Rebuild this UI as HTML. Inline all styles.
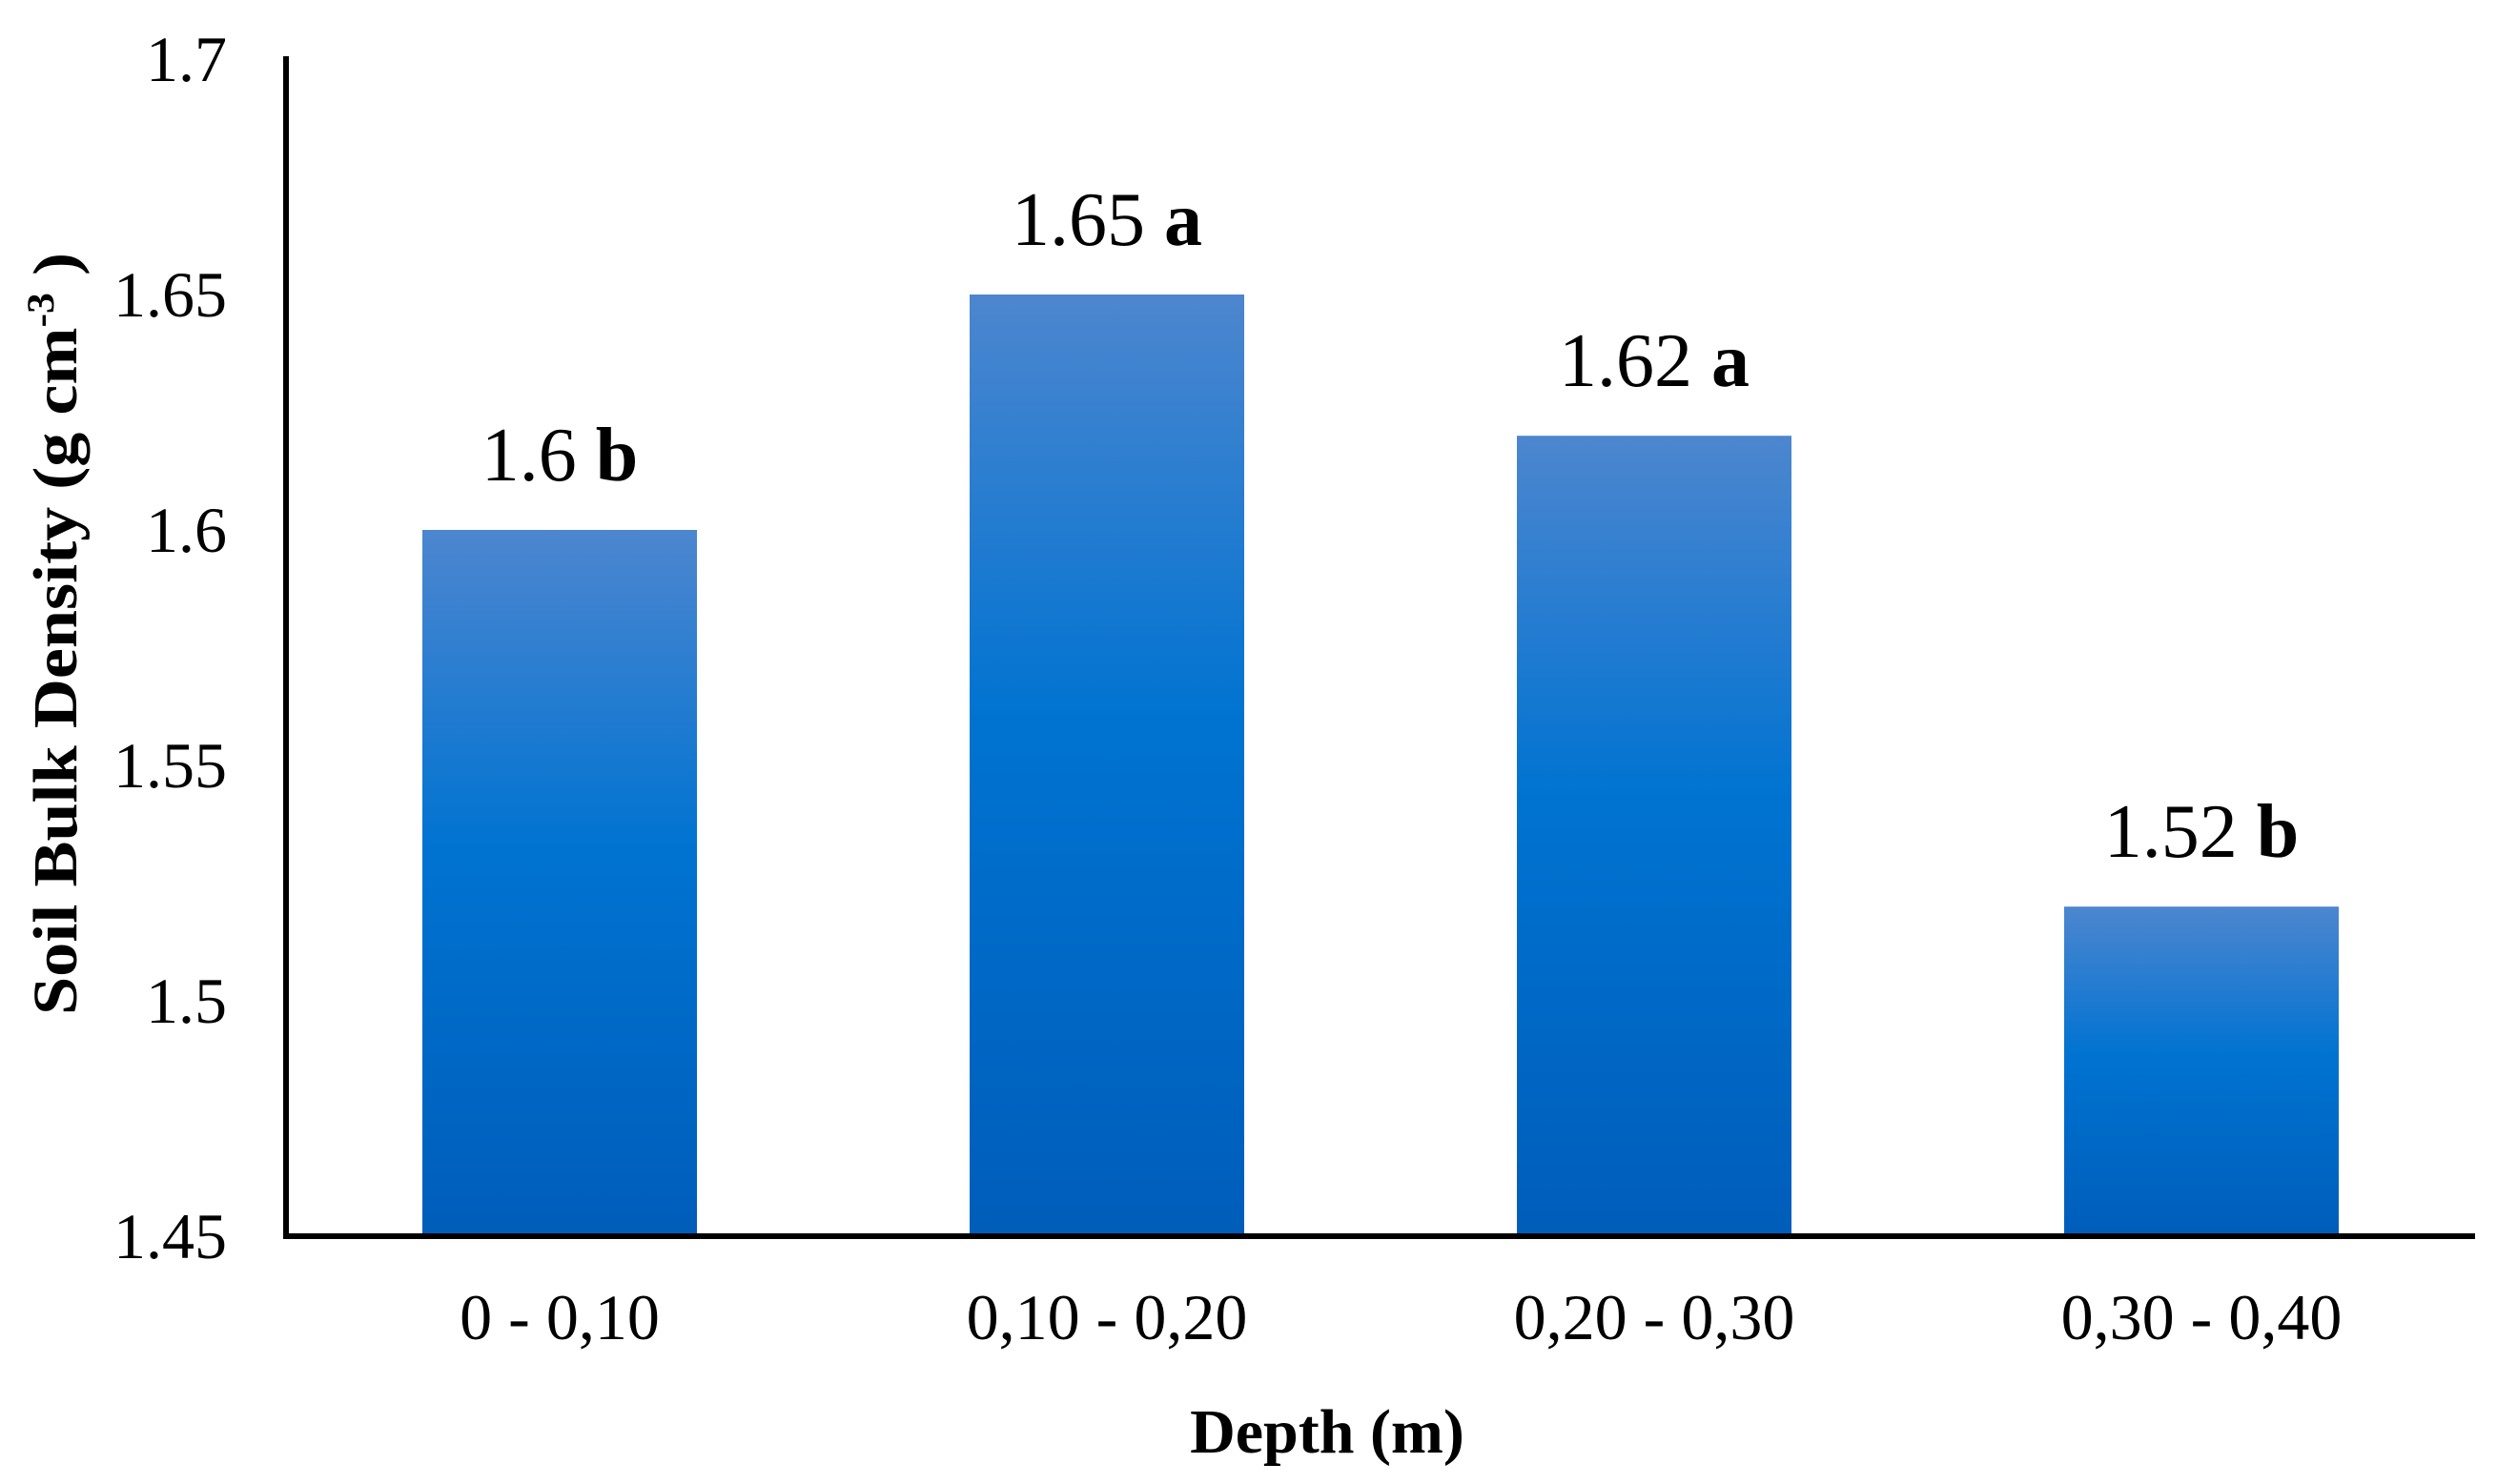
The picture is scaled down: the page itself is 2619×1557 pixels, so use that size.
<!DOCTYPE html>
<html><head><meta charset="utf-8"><style>
html,body{margin:0;padding:0;background:#fff;}
svg{display:block;font-family:"Liberation Serif",serif;}
</style></head><body>
<svg id="chart" width="2619" height="1557" viewBox="0 0 2619 1557">
<defs>
<linearGradient id="bg" x1="0" y1="0" x2="0" y2="1">
<stop offset="0" stop-color="#4d86cf"/>
<stop offset="0.45" stop-color="#0073d1"/>
<stop offset="1" stop-color="#005dba"/>
</linearGradient>
</defs>
<g id="ticks"></g>
<g id="bars"></g>
<g id="xlabels"></g>
<line x1="300" y1="59" x2="300" y2="1300" stroke="#000" stroke-width="6"/>
<line x1="297" y1="1297" x2="2596" y2="1297" stroke="#000" stroke-width="6"/>
<text x="1392" y="1524" font-size="66" font-weight="bold" text-anchor="middle">Depth (m)</text>
<text transform="translate(80,665) rotate(-90)" font-size="66" font-weight="bold" text-anchor="middle" textLength="800" lengthAdjust="spacingAndGlyphs">Soil Bulk Density (g cm<tspan font-size="40" dy="-24">-3</tspan><tspan dy="24"> )</tspan></text>
</svg>
<script>
const categories = ["0 - 0,10", "0,10 - 0,20", "0,20 - 0,30", "0,30 - 0,40"];
const values = [1.6, 1.65, 1.62, 1.52];
const letters = ["b", "a", "a", "b"];
const tickValues = [1.45, 1.5, 1.55, 1.6, 1.65, 1.7];
const tickLabels = ["1.45", "1.5", "1.55", "1.6", "1.65", "1.7"];

const NS = "http://www.w3.org/2000/svg";
const yMin = 1.45, yMax = 1.7, yTop = 62, yBot = 1297;
const xLeft = 300, xRight = 2596;
function y(v){ return yBot - (v - yMin) / (yMax - yMin) * (yBot - yTop); }
const band = (xRight - xLeft) / categories.length;
function xc(i){ return xLeft + band * (i + 0.5); }
const barW = 288;

const ticks = document.getElementById('ticks');
tickValues.forEach((v, i) => {
  const t = document.createElementNS(NS, 'text');
  
  
  t.setAttribute('x', 238);
  t.setAttribute('y', y(v) + 23);
  t.setAttribute('font-size', '68');
  t.setAttribute('text-anchor', 'end');
  t.textContent = tickLabels[i];
  ticks.appendChild(t);
});

const bars = document.getElementById('bars');
const xl = document.getElementById('xlabels');
categories.forEach((c, i) => {
  const r = document.createElementNS(NS, 'rect');
  
  
  r.setAttribute('x', xc(i) - barW / 2);
  r.setAttribute('y', y(values[i]));
  r.setAttribute('width', barW);
  r.setAttribute('height', yBot - y(values[i]));
  r.setAttribute('fill', 'url(#bg)');
  bars.appendChild(r);

  const lab = document.createElementNS(NS, 'text');
  
  
  lab.setAttribute('x', xc(i));
  lab.setAttribute('y', y(values[i]) - 52);
  lab.setAttribute('font-size', '80');
  lab.setAttribute('text-anchor', 'middle');
  lab.textContent = values[i] + ' ';
  const b = document.createElementNS(NS, 'tspan');
  b.setAttribute('font-weight', 'bold');
  b.textContent = letters[i];
  lab.appendChild(b);
  bars.appendChild(lab);

  const t = document.createElementNS(NS, 'text');
  
  
  t.setAttribute('x', xc(i));
  t.setAttribute('y', 1405);
  t.setAttribute('font-size', '68');
  t.setAttribute('text-anchor', 'middle');
  t.textContent = c;
  xl.appendChild(t);
});
</script>
</body></html>
